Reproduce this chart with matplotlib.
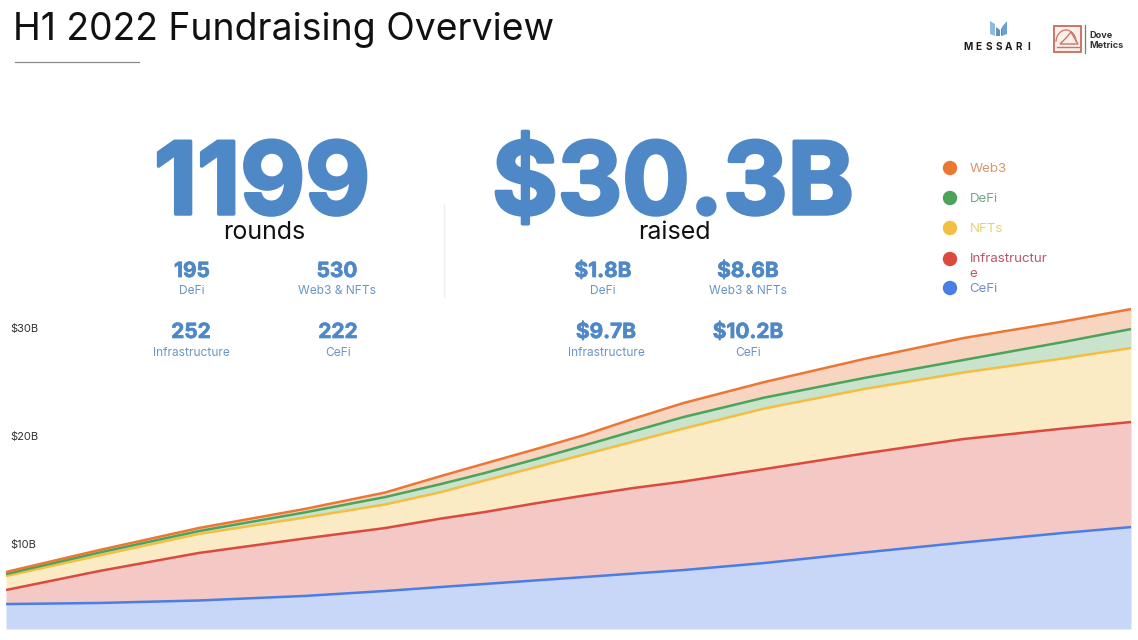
import matplotlib
matplotlib.use("Agg")
import matplotlib.pyplot as plt
import matplotlib.patheffects as pe
from matplotlib.patches import Polygon, Rectangle, Arc
from matplotlib.patches import Circle
from matplotlib.lines import Line2D

# ---- data: cumulative stack tops in $B ----
days = [0, 15, 31, 48, 61, 70, 77, 85, 93, 101, 109, 122, 138, 154, 170, 181]
cefi = [4.44, 4.54, 4.77, 5.19, 5.65, 6.02, 6.3, 6.62, 6.94, 7.27, 7.59, 8.24, 9.21, 10.14, 11.02, 11.57]
infrastructure = [5.74, 7.5, 9.17, 10.51, 11.48, 12.36, 12.96, 13.75, 14.49, 15.19, 15.79, 16.94, 18.38, 19.72, 20.69, 21.3]
nfts = [7.04, 8.94, 10.93, 12.45, 13.66, 14.81, 15.88, 17.08, 18.29, 19.49, 20.69, 22.55, 24.35, 25.88, 27.18, 28.15]
defi = [7.22, 9.21, 11.2, 12.92, 14.35, 15.56, 16.57, 17.82, 19.12, 20.46, 21.76, 23.56, 25.37, 27.04, 28.7, 29.91]
web3 = [7.41, 9.44, 11.48, 13.24, 14.77, 16.3, 17.45, 18.75, 20.09, 21.62, 23.06, 25.0, 27.13, 29.07, 30.6, 31.76]

y_ticks = [10, 20, 30]
y_tick_labels = ["$10B", "$20B", "$30B"]

series_labels = ["Web3", "DeFi", "NFTs", "Infrastructur\ne", "CeFi"]
series_colors = ["#EA7733", "#4CA35A", "#F3BE41", "#DB4A3E", "#4A7DE6"]
label_colors = ["#D8976A", "#74A585", "#E2D27A", "#B9566A", "#7390C2"]

title = "H1 2022 Fundraising Overview"
big_left, big_left_sub = "1199", "rounds"
big_right, big_right_sub = "$30.3B", "raised"
left_stats = [("195", "DeFi"), ("530", "Web3 & NFTs"), ("252", "Infrastructure"), ("222", "CeFi")]
right_stats = [("$1.8B", "DeFi"), ("$8.6B", "Web3 & NFTs"), ("$9.7B", "Infrastructure"), ("$10.2B", "CeFi")]

W, H = 1138, 640
BLUE = "#4F88C6"
SUB = "#6A96C4"
FONT = ["Inter", "Open Sans", "DejaVu Sans"]
plt.rcParams["font.family"] = FONT

fig = plt.figure(figsize=(W / 100, H / 100), dpi=100, facecolor="white")

def fx(x): return x / W
def fy(y): return 1 - y / H

# ---- chart ----
ax_left, ax_right, ax_top, ax_bottom = 6, 1131, 300, 629
ax = fig.add_axes([fx(ax_left), fy(ax_bottom), (ax_right - ax_left) / W, (ax_bottom - ax_top) / H])
ax.set_xlim(days[0], days[-1])
ax.set_ylim(2.13, 32.6)
ax.patch.set_alpha(0)
for s in ax.spines.values():
    s.set_visible(False)
ax.set_xticks([])
ax.set_yticks(y_ticks)
ax.set_yticklabels(y_tick_labels, fontsize=8, color="#333333", ha="left")
ax.tick_params(axis="y", length=0, pad=-3)

bottom = 2.13
tops = [cefi, infrastructure, nfts, defi, web3]
colors_bottom_up = series_colors[::-1]
prev = [bottom] * len(days)
for top, c in zip(tops, colors_bottom_up):
    ax.fill_between(days, prev, top, color=c, alpha=0.3, lw=0, zorder=2)
    prev = top
for top, c in zip(tops, colors_bottom_up):
    ax.plot(days, top, color=c, lw=1.8, zorder=3, solid_capstyle="butt", solid_joinstyle="round")

# ---- overlay for decoration, in pixel coordinates ----
ov = fig.add_axes([0, 0, 1, 1], zorder=5)
ov.set_xlim(0, W)
ov.set_ylim(H, 0)
ov.axis("off")
ov.patch.set_alpha(0)

ov.text(13, 40, title, fontsize=26.9, color="#111111", ha="left", va="baseline", fontweight="normal")
ov.add_line(Line2D([15, 139], [62, 62], color="#8a8a8a", lw=0.9))
ov.add_line(Line2D([444, 444], [205, 297], color="#eeeeee", lw=1.0))

thick = [pe.withStroke(linewidth=2.5, foreground=BLUE)]
thin = [pe.withStroke(linewidth=0.5, foreground=BLUE)]
ov.text(262, 214, big_left, fontsize=72, color=BLUE, ha="center", va="baseline",
        fontweight="bold", path_effects=thick)
ov.text(673, 214, big_right, fontsize=72, color=BLUE, ha="center", va="baseline",
        fontweight="bold", path_effects=thick)
ov.text(264, 239, big_left_sub, fontsize=18, color="#111111", ha="center", va="baseline")
ov.text(674, 239, big_right_sub, fontsize=18, color="#111111", ha="center", va="baseline")

def stats(items, xs):
    rows = [(277, 294), (338, 356)]
    for i, (num, lab) in enumerate(items):
        x = xs[i % 2][i // 2]
        yn, yl = rows[i // 2]
        ov.text(x, yn, num, fontsize=15, color=BLUE, ha="center", va="baseline",
                fontweight="bold", path_effects=thin)
        ov.text(x, yl, lab, fontsize=8.6, color=SUB, ha="center", va="baseline")

stats(left_stats, [(192, 191), (337, 338)])
stats(right_stats, [(603, 606), (748, 748)])

# legend
legend_y = [168, 198, 228, 259, 288]
for lab, c, tc, y in zip(series_labels, series_colors, label_colors, legend_y):
    ov.add_patch(Circle((950, y), 7.2, color=c, lw=0))
    ov.text(969.5, y - 5.5, lab, fontsize=9.6, color=tc, ha="left", va="top", linespacing=1.25)

# Messari logo
for pts, col in [
    ([(990, 21), (995, 24), (995, 36), (990, 34)], "#8DBBE0"),
    ([(996, 27), (1000, 30), (1000, 36), (996, 36)], "#5E93C2"),
    ([(1001, 29), (1006, 23), (1006, 33), (1001, 36)], "#4C86BB"),
    ([(1002, 27), (1007, 21), (1007, 34), (1002, 36)], "#6CA0CE"),
]:
    ov.add_patch(Polygon(pts, closed=True, color=col, lw=0))
for i, ch in enumerate("MESSARI"):
    ov.text(968 + i * 10.2, 47, ch, fontsize=7.2, fontweight="bold", color="#1c1c1c", ha="center", va="center")

# Dove Metrics logo
DM = "#C9766A"
ov.add_patch(Rectangle((1054.5, 26), 27, 26, fc="#FBEFEA", ec=DM, lw=1.4))
ov.add_patch(Arc((1066, 42), 20, 24, theta1=180, theta2=360, ec=DM, lw=0.9))
ov.add_patch(Polygon([(1060, 44), (1066, 38), (1071, 32), (1078, 44)], closed=True, fill=False, ec=DM, lw=1.0))
ov.add_line(Line2D([1057, 1079], [47, 47], color=DM, lw=1.0))
ov.add_line(Line2D([1085, 1085], [25, 53], color="#9c6b6b", lw=0.9))
ov.text(1089, 35, "Dove", fontsize=6.6, fontweight="bold", color="#333333", ha="left", va="center")
ov.text(1089, 45, "Metrics", fontsize=6.6, fontweight="bold", color="#333333", ha="left", va="center")

fig.savefig("out.png", dpi=100)
